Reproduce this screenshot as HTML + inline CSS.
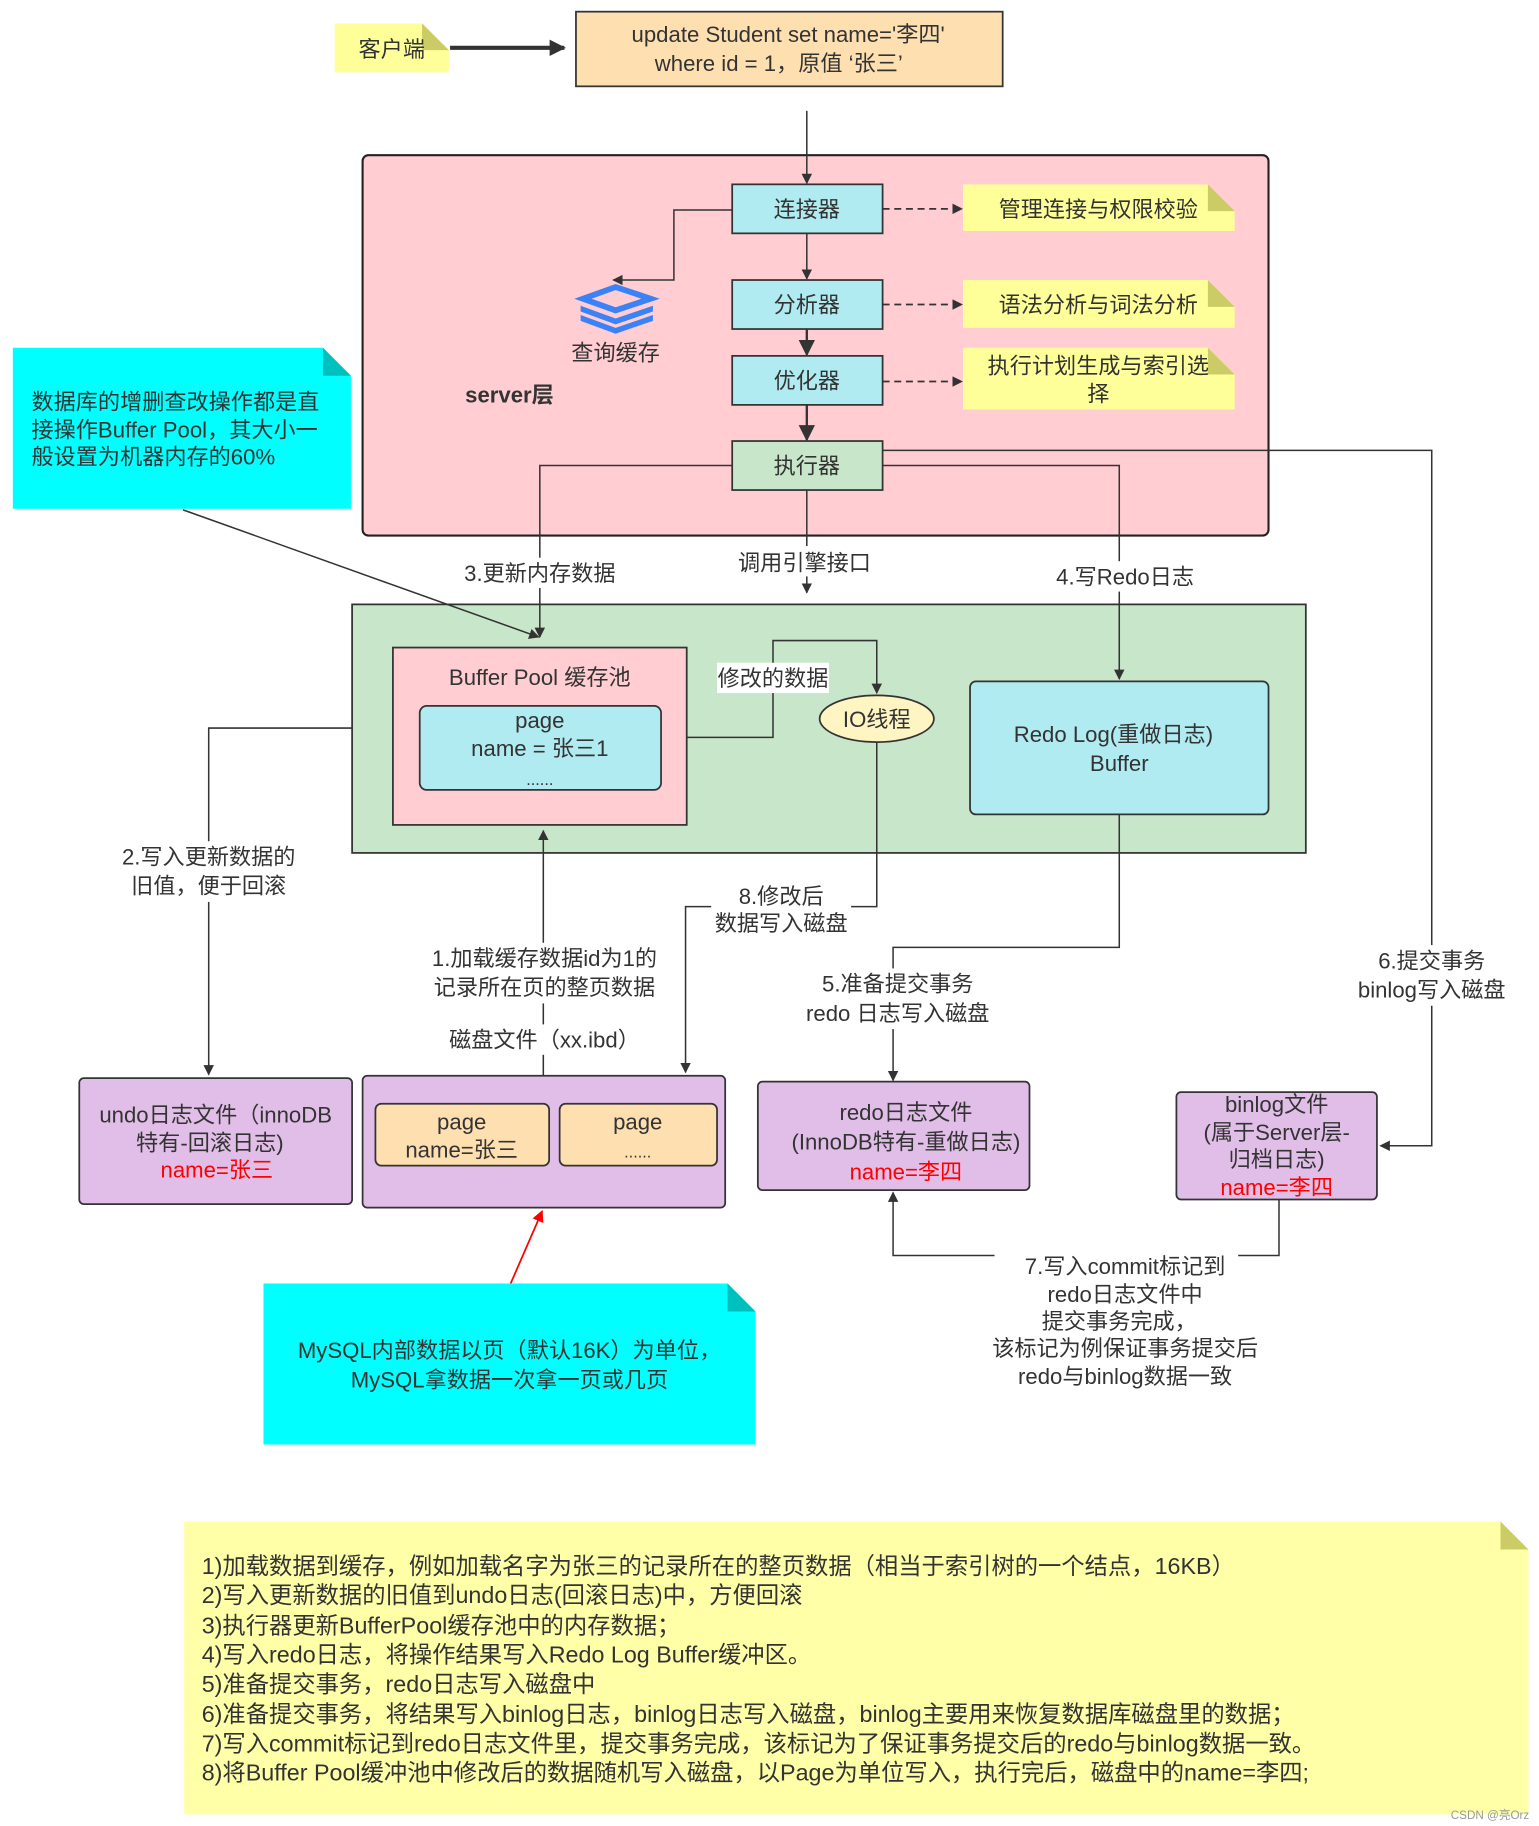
<!DOCTYPE html>
<html><head><meta charset="utf-8"><style>
html,body{margin:0;padding:0;background:#fff;}
svg{display:block;}
text{font-family:"Liberation Sans","Noto Sans CJK SC",sans-serif;fill:#333;}
</style></head><body>
<svg width="1539" height="1826" viewBox="0 0 1320 1565" preserveAspectRatio="none" xmlns="http://www.w3.org/2000/svg">
<defs>
<marker id="a" viewBox="0 0 10 10" refX="9" refY="5" markerWidth="9" markerHeight="9" markerUnits="userSpaceOnUse" orient="auto"><path d="M0,0 L10,5 L0,10 z" fill="#333"/></marker>
<marker id="ab" viewBox="0 0 10 10" refX="9" refY="5" markerWidth="14" markerHeight="14" markerUnits="userSpaceOnUse" orient="auto"><path d="M0,0 L10,5 L0,10 z" fill="#333"/></marker>
<marker id="ar" viewBox="0 0 10 10" refX="9" refY="5" markerWidth="10" markerHeight="10" markerUnits="userSpaceOnUse" orient="auto"><path d="M0,0 L10,5 L0,10 z" fill="#f00"/></marker>
</defs>
<g font-size="19" text-anchor="middle">
<!-- client -->
<path d="M287,20 H362 L385,43 V62 H287 Z" fill="#ffff99"/>
<path d="M362,20 L385,43 H362 Z" fill="#cccc66"/>
<text x="336" y="49">客户端</text>
<line x1="386" y1="41" x2="484" y2="41" stroke="#333" stroke-width="3.5" marker-end="url(#ab)"/>
<rect x="494" y="10" width="366" height="64" fill="#fedfb0" stroke="#333" stroke-width="1.5"/>
<text x="676" y="36">update Student set name='李四'</text>
<text x="668" y="61">where id = 1，原值 ‘张三’</text>
<!-- server -->
<rect x="311" y="133" width="777" height="326" rx="5" fill="#ffcdd2" stroke="#222" stroke-width="1.8"/>
<line x1="692" y1="95" x2="692" y2="157" stroke="#333" stroke-width="1.3" marker-end="url(#a)"/>
<text x="437" y="345" font-weight="bold">server层</text>
<rect x="628" y="158" width="129" height="42" fill="#b0ebf2" stroke="#333" stroke-width="1.5"/>
<text x="692" y="186">连接器</text>
<rect x="628" y="240" width="129" height="42" fill="#b0ebf2" stroke="#333" stroke-width="1.5"/>
<text x="692" y="268">分析器</text>
<rect x="628" y="305" width="129" height="42" fill="#b0ebf2" stroke="#333" stroke-width="1.5"/>
<text x="692" y="333">优化器</text>
<rect x="628" y="378" width="129" height="42" fill="#c8e6c9" stroke="#333" stroke-width="1.5"/>
<text x="692" y="406">执行器</text>
<line x1="692" y1="200" x2="692" y2="239" stroke="#333" stroke-width="1.3" marker-end="url(#a)"/>
<line x1="692" y1="282" x2="692" y2="304" stroke="#333" stroke-width="2" marker-end="url(#ab)"/>
<line x1="692" y1="347" x2="692" y2="377" stroke="#333" stroke-width="2" marker-end="url(#ab)"/>
<!-- notes -->
<path d="M826,158 H1036 L1059,181 V198 H826 Z" fill="#ffff99"/><path d="M1036,158 L1059,181 H1036 Z" fill="#cccc66"/>
<text x="942" y="186">管理连接与权限校验</text>
<path d="M826,240 H1036 L1059,263 V281 H826 Z" fill="#ffff99"/><path d="M1036,240 L1059,263 H1036 Z" fill="#cccc66"/>
<text x="942" y="268">语法分析与词法分析</text>
<path d="M826,298 H1036 L1059,321 V351 H826 Z" fill="#ffff99"/><path d="M1036,298 L1059,321 H1036 Z" fill="#cccc66"/>
<text x="942" y="320">执行计划生成与索引选</text><text x="942" y="344">择</text>
<g stroke="#333" stroke-width="1.5" stroke-dasharray="6,4">
<line x1="757" y1="179" x2="825" y2="179" marker-end="url(#a)"/>
<line x1="757" y1="261" x2="825" y2="261" marker-end="url(#a)"/>
<line x1="757" y1="327" x2="825" y2="327" marker-end="url(#a)"/>
</g>
<!-- query cache -->
<polyline points="628,180 578,180 578,240 526,240" fill="none" stroke="#333" stroke-width="1.3" marker-end="url(#a)"/>
<g fill="#3b82f6">
<path d="M500,256 L528,246 L558,256 L528,266 Z" fill="none" stroke="#3b82f6" stroke-width="5"/>
<path d="M498,262 L528,273 L560,262 L560,267 L528,278 L498,267 Z"/>
<path d="M498,270 L528,281 L560,270 L560,275 L528,286 L498,275 Z"/>
</g>
<text x="528" y="309">查询缓存</text>
<!-- cyan note 1 -->
<path d="M11,298 H277 L301,322 V436 H11 Z" fill="#00ffff"/><path d="M277,298 L301,322 H277 Z" fill="#00bfbf"/>
<g text-anchor="start"><text x="27" y="351">数据库的增删查改操作都是直</text><text x="27" y="375">接操作Buffer Pool，其大小一</text><text x="27" y="398">般设置为机器内存的60%</text></g>
<!-- green -->
<rect x="302" y="518" width="818" height="213" fill="#c8e6c9" stroke="#333" stroke-width="1.5"/>
<rect x="337" y="555" width="252" height="152" fill="#ffcdd2" stroke="#333" stroke-width="1.5"/>
<text x="463" y="587">Buffer Pool 缓存池</text>
<rect x="360" y="605" width="207" height="72" rx="6" fill="#b0ebf2" stroke="#333" stroke-width="1.5"/>
<text x="463" y="624">page</text><text x="463" y="648">name = 张三1</text><text x="463" y="673" font-size="14">......</text>
<rect x="832" y="584" width="256" height="114" rx="5" fill="#b0ebf2" stroke="#333" stroke-width="1.5"/>
<text x="955" y="636">Redo Log(重做日志)</text><text x="960" y="661">Buffer</text>
<polyline points="589,632 663,632 663,549 752,549 752,594" fill="none" stroke="#333" stroke-width="1.3" marker-end="url(#a)"/>
<rect x="615" y="568" width="96" height="26" fill="#fff"/>
<text x="663" y="588">修改的数据</text>
<ellipse cx="752" cy="616" rx="49" ry="20" fill="#fff5c2" stroke="#333" stroke-width="1.5"/>
<text x="752" y="623">IO线程</text>
<!-- executor lines -->
<g fill="none" stroke="#333" stroke-width="1.3">
<polyline points="628,399 463,399 463,546" marker-end="url(#a)"/>
<polyline points="692,420 692,508" marker-end="url(#a)"/>
<polyline points="757,399 960,399 960,582" marker-end="url(#a)"/>
<polyline points="757,386 1228,386 1228,982 1184,982" marker-end="url(#a)"/>
<line x1="157" y1="437" x2="462" y2="546" marker-end="url(#a)"/>
<polyline points="302,624 179,624 179,921" marker-end="url(#a)"/>
<polyline points="752,636 752,777 588,777 588,919" marker-end="url(#a)"/>
<polyline points="466,922 466,712" marker-end="url(#a)"/>
<polyline points="960,698 960,812 766,812 766,926" marker-end="url(#a)"/>
<polyline points="1097,1028 1097,1076 1062,1076"/>
<polyline points="853,1076 766,1076 766,1022" marker-end="url(#a)"/>
</g>
<g fill="#fff">
<rect x="392" y="478" width="142" height="26"/><rect x="626" y="468" width="128" height="26"/><rect x="898" y="481" width="132" height="26"/>
<rect x="1152" y="810" width="150" height="52"/><rect x="95" y="721" width="170" height="52"/><rect x="610" y="754" width="120" height="50"/>
<rect x="360" y="808" width="214" height="52"/><rect x="380" y="878" width="176" height="26"/><rect x="680" y="830" width="180" height="52"/>
</g>
<text x="463" y="498">3.更新内存数据</text>
<text x="690" y="489">调用引擎接口</text>
<text x="965" y="501">4.写Redo日志</text>
<text x="1228" y="830">6.提交事务</text><text x="1228" y="855">binlog写入磁盘</text>
<text x="179" y="741">2.写入更新数据的</text><text x="179" y="766">旧值，便于回滚</text>
<text x="670" y="775">8.修改后</text><text x="670" y="798">数据写入磁盘</text>
<text x="467" y="828">1.加载缓存数据id为1的</text><text x="467" y="853">记录所在页的整页数据</text>
<text x="467" y="898">磁盘文件（xx.ibd）</text>
<text x="770" y="850">5.准备提交事务</text><text x="770" y="875">redo 日志写入磁盘</text>
<!-- disk boxes -->
<rect x="68" y="924" width="234" height="108" rx="4" fill="#e1bee7" stroke="#333" stroke-width="1.5"/>
<text x="185" y="962">undo日志文件（innoDB</text><text x="180" y="986">特有-回滚日志)</text><text x="186" y="1009" style="fill:#f00">name=张三</text>
<rect x="311" y="922" width="311" height="113" rx="4" fill="#e1bee7" stroke="#333" stroke-width="1.5"/>
<rect x="322" y="946" width="149" height="53" rx="5" fill="#fedfb0" stroke="#333" stroke-width="1.5"/>
<text x="396" y="968">page</text><text x="396" y="992">name=张三</text>
<rect x="480" y="946" width="135" height="53" rx="5" fill="#fedfb0" stroke="#333" stroke-width="1.5"/>
<text x="547" y="968">page</text><text x="547" y="992" font-size="14">......</text>
<rect x="650" y="927" width="233" height="93" rx="4" fill="#e1bee7" stroke="#333" stroke-width="1.5"/>
<text x="777" y="960">redo日志文件</text><text x="777" y="985">(InnoDB特有-重做日志)</text><text x="777" y="1011" style="fill:#f00">name=李四</text>
<rect x="1009" y="936" width="172" height="92" rx="4" fill="#e1bee7" stroke="#333" stroke-width="1.5"/>
<text x="1095" y="953">binlog文件</text><text x="1095" y="977">(属于Server层-</text><text x="1095" y="1000">归档日志)</text><text x="1095" y="1024" style="fill:#f00">name=李四</text>
<g text-anchor="middle"><text x="965" y="1092">7.写入commit标记到</text><text x="965" y="1116">redo日志文件中</text><text x="960" y="1139">提交事务完成，</text><text x="965" y="1162">该标记为例保证事务提交后</text><text x="965" y="1186">redo与binlog数据一致</text></g>
<line x1="438" y1="1100" x2="465" y2="1038" stroke="#f00" stroke-width="1.5" marker-end="url(#ar)"/>
<path d="M226,1100 H624 L648,1124 V1238 H226 Z" fill="#00ffff"/><path d="M624,1100 L648,1124 H624 Z" fill="#00bfbf"/>
<text x="437" y="1164">MySQL内部数据以页（默认16K）为单位，</text><text x="437" y="1189">MySQL拿数据一次拿一页或几页</text>
<!-- bottom note -->
<path d="M158,1304 H1287 L1311,1328 V1555 H158 Z" fill="#ffffa8"/><path d="M1287,1304 L1311,1328 H1287 Z" fill="#cccc66"/>
<g text-anchor="start" font-size="20">
<text x="173" y="1349">1)加载数据到缓存，例如加载名字为张三的记录所在的整页数据（相当于索引树的一个结点，16KB）</text>
<text x="173" y="1374">2)写入更新数据的旧值到undo日志(回滚日志)中，方便回滚</text>
<text x="173" y="1400">3)执行器更新BufferPool缓存池中的内存数据；</text>
<text x="173" y="1425">4)写入redo日志，将操作结果写入Redo Log Buffer缓冲区。</text>
<text x="173" y="1450">5)准备提交事务，redo日志写入磁盘中</text>
<text x="173" y="1476">6)准备提交事务，将结果写入binlog日志，binlog日志写入磁盘，binlog主要用来恢复数据库磁盘里的数据；</text>
<text x="173" y="1501">7)写入commit标记到redo日志文件里，提交事务完成，该标记为了保证事务提交后的redo与binlog数据一致。</text>
<text x="173" y="1526">8)将Buffer Pool缓冲池中修改后的数据随机写入磁盘，以Page为单位写入，执行完后，磁盘中的name=李四;</text>
</g>
<text x="1278" y="1559" font-size="10" style="fill:#999">CSDN @亮Orz</text>
</g>
</svg>
</body></html>
